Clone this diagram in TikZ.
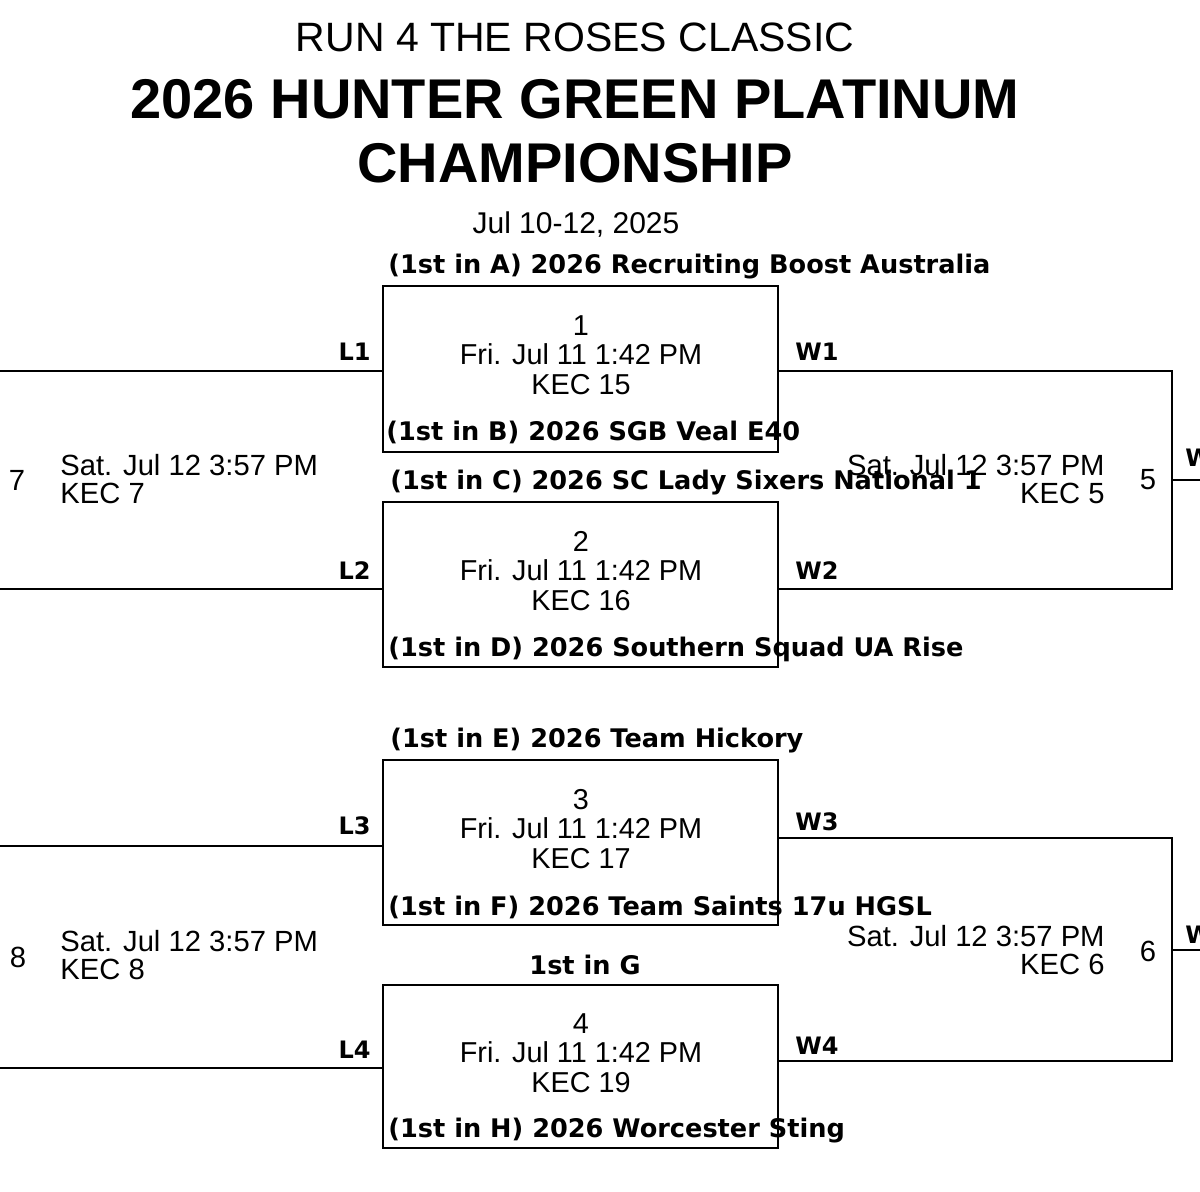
\documentclass[tikz,border=0pt]{standalone}
\usepackage{fontspec}
\setmainfont{Liberation Sans}
\newfontfamily\dejab{DejaVu Sans}
\begin{document}
\begin{tikzpicture}[x=0.5pt,y=-0.5pt,
  ln/.style={line width=1pt},
  team/.style={anchor=west,inner sep=0,font=\dejab\fontsize{12.8}{14}\selectfont\bfseries},
  mt/.style={align=center,inner sep=0,font=\fontsize{14.4}{14.8}\selectfont},
  lab/.style={inner sep=0,font=\dejab\fontsize{12}{13}\selectfont\bfseries},
  tx/.style={inner sep=0,font=\fontsize{14.6}{14}\selectfont}]
\useasboundingbox (0,0) rectangle (1200,1191);
\fill[white] (0,0) rectangle (1200,1191);
\node[inner sep=0,font=\fontsize{20.5}{20}\selectfont] (t1) at (575,37) {RUN 4 THE ROSES CLASSIC};
\node[inner sep=0,align=center,font=\fontsize{28}{32}\selectfont\bfseries] (t2) at (575,131) {2026 HUNTER GREEN PLATINUM\\CHAMPIONSHIP};
\node[inner sep=0,font=\fontsize{15}{15}\selectfont] (t3) at (576,225) {Jul 10-12, 2025};
% boxes
\foreach \n/\yt/\yb in {1/286/452,2/502/667,3/760/925,4/985/1148}
  \draw[ln] (383,\yt) rectangle (778,\yb) coordinate (b\n);
\foreach \n/\y/\k in {1/325/15,2/541/16,3/799/17,4/1023/19}
  \node[mt] (m\n) at (581,\y+30) {\n\\Fri. Jul 11 1:42 PM\\KEC \k};
% teams
\node[team] (ta) at (388,267) {(1st in A) 2026 Recruiting Boost Australia};
\node[team] (tb) at (386,432) {(1st in B) 2026 SGB Veal E40};
\node[team] (tc) at (390,483) {(1st in C) 2026 SC Lady Sixers National 1};
\node[team] (td) at (388,649) {(1st in D) 2026 Southern Squad UA Rise};
\node[team] (te) at (390,741) {(1st in E) 2026 Team Hickory};
\node[team] (tf) at (388,907) {(1st in F) 2026 Team Saints 17u HGSL};
\node[team,anchor=center] (tg) at (585,965) {1st in G};
\node[team] (th) at (388,1131) {(1st in H) 2026 Worcester Sting};
% coordinates
\coordinate (l1) at (383,371); \coordinate (l1e) at (0,371);
\coordinate (l2) at (383,589); \coordinate (l2e) at (0,589);
\coordinate (l3) at (383,846); \coordinate (l3e) at (0,846);
\coordinate (l4) at (383,1068); \coordinate (l4e) at (0,1068);
\coordinate (w1) at (778,371); \coordinate (w1e) at (1172,371);
\coordinate (w2) at (778,589); \coordinate (w2e) at (1172,589);
\coordinate (w3) at (778,838); \coordinate (w3e) at (1172,838);
\coordinate (w4) at (778,1061); \coordinate (w4e) at (1172,1061);
\coordinate (o5) at (1172,480); \coordinate (o5e) at (1200,480);
\coordinate (o6) at (1172,950); \coordinate (o6e) at (1200,950);
\draw[ln] (l1e) -- (l1); \draw[ln] (l2e) -- (l2);
\draw[ln] (l3e) -- (l3); \draw[ln] (l4e) -- (l4);
\draw[ln] (w1) -- (w1e) -- (w2e) -- (w2);
\draw[ln] (w3) -- (w3e) -- (w4e) -- (w4);
\draw[ln] (o5) -- (o5e); \draw[ln] (o6) -- (o6e);
% labels
\node[lab,anchor=east] (ll1) at (371,352) {L1};
\node[lab,anchor=east] (ll2) at (371,571) {L2};
\node[lab,anchor=east] (ll3) at (371,826) {L3};
\node[lab,anchor=east] (ll4) at (371,1050) {L4};
\node[lab,anchor=west] (lw1) at (795,352) {W1};
\node[lab,anchor=west] (lw2) at (795,571) {W2};
\node[lab,anchor=west] (lw3) at (795,822) {W3};
\node[lab,anchor=west] (lw4) at (795,1046) {W4};
\node[lab,anchor=west] (lw5) at (1185,458) {W};
\node[lab,anchor=west] (lw6) at (1185,935) {W};
% consolation / semis
\node[tx] (n7) at (17,480) {7};
\node[tx,anchor=west,align=left] (m7) at (60,479) {Sat. Jul 12 3:57 PM\\KEC 7};
\node[tx] (n8) at (18,957) {8};
\node[tx,anchor=west,align=left] (m8) at (60,955) {Sat. Jul 12 3:57 PM\\KEC 8};
\node[tx,anchor=east,align=right] (m5) at (1105,479) {Sat. Jul 12 3:57 PM\\KEC 5};
\node[tx] (n5) at (1148,480) {5};
\node[tx,anchor=east,align=right] (m6) at (1105,950) {Sat. Jul 12 3:57 PM\\KEC 6};
\node[tx] (n6) at (1148,951) {6};
\end{tikzpicture}
\end{document}
